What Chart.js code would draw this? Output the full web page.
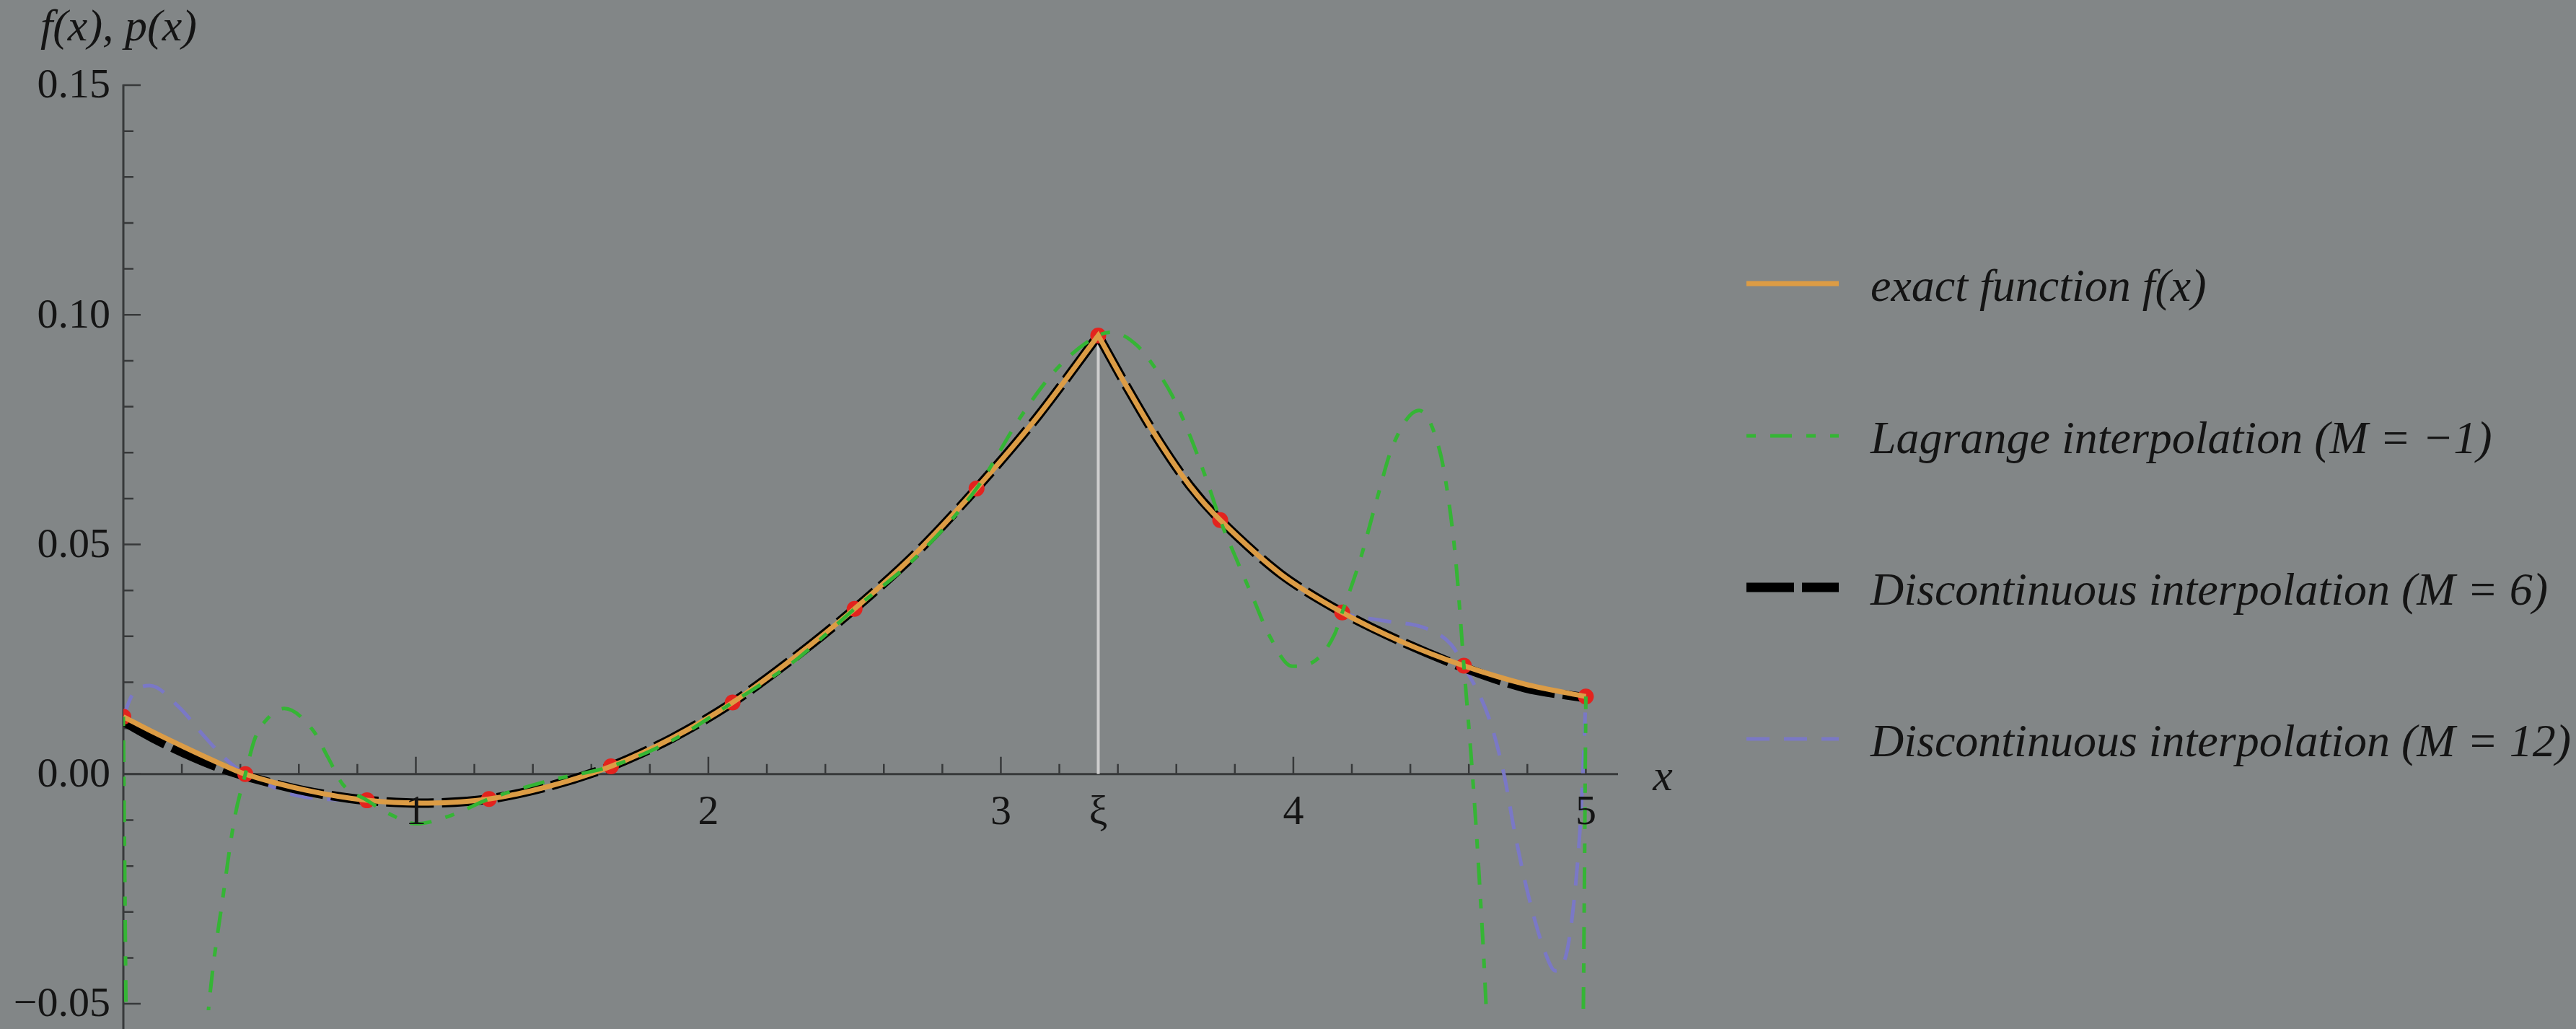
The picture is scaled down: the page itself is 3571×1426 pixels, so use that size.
<!DOCTYPE html>
<html>
<head>
<meta charset="utf-8">
<title>f(x), p(x)</title>
<script src="https://cdn.jsdelivr.net/npm/chart.js@4.4.1/dist/chart.umd.min.js"></script>
<style>
  html, body { margin: 0; padding: 0; background: #828687; }
  canvas { display: block; }
</style>
</head>
<body>
<canvas id="plot" width="3571" height="1426"></canvas>
<script>
/* interpolation of a function with a kink at xi,
   exact f(x) against three interpolants
*/

// interpolation nodes (red dots)
const nodeX = [0, 0.417, 0.833, 1.25, 1.667, 2.083, 2.5, 2.917, 3.333, 3.75, 4.167, 4.583, 5.0];
const nodeY = [0.0125, 0.0, -0.0057, -0.0054, 0.0017, 0.0156, 0.036, 0.0622, 0.0955, 0.0553, 0.0352, 0.0236, 0.0169];

// exact function f(x) (kink at xi, the point is listed twice to keep it sharp)
const exactX = [0, 0.104, 0.208, 0.313, 0.417, 0.625, 0.833, 1.042, 1.25, 1.458, 1.667, 1.875, 2.083, 2.292, 2.5, 2.708, 2.917, 3.125, 3.333, 3.333, 3.438, 3.542, 3.646, 3.75, 3.958, 4.167, 4.375, 4.583, 4.792, 5.0];
const exactY = [0.0125, 0.0091, 0.0059, 0.0028, 0.0, -0.0035, -0.0057, -0.0063, -0.0054, -0.0026, 0.0017, 0.0078, 0.0156, 0.0253, 0.036, 0.048, 0.0622, 0.0778, 0.0955, 0.0955, 0.0835, 0.0724, 0.0628, 0.0553, 0.0435, 0.0352, 0.0287, 0.0236, 0.0196, 0.0169];

// discontinuous interpolation M = 6 (almost on top of f)
const disc6X = exactX;
const disc6Y = [0.0115, 0.0078, 0.0046, 0.0018, -0.0004, -0.0037, -0.0057, -0.0063, -0.0054, -0.0026, 0.0017, 0.0078, 0.0156, 0.0253, 0.036, 0.048, 0.0622, 0.0778, 0.0955, 0.0955, 0.0835, 0.0724, 0.0628, 0.0553, 0.0435, 0.0352, 0.0287, 0.0232, 0.0188, 0.0166];

// Lagrange interpolation M = -1 (runs far below the frame near both ends)
const lagrX = [0, 0.006, 0.012, 0.15, 0.27, 0.29, 0.343, 0.38, 0.417, 0.45, 0.49, 0.55, 0.65, 0.70, 0.75, 0.833, 0.92, 1.0, 1.12, 1.25, 1.45, 1.667, 1.875, 2.083, 2.292, 2.5, 2.708, 2.917, 3.07, 3.195, 3.333, 3.38, 3.466, 3.535, 3.585, 3.633, 3.705, 3.75, 3.804, 3.86, 3.917, 3.996, 4.07, 4.14, 4.167, 4.23, 4.285, 4.34, 4.43, 4.50, 4.53, 4.556, 4.583, 4.61, 4.635, 4.66, 4.70, 4.85, 4.97, 4.99, 5.0];
const lagrY = [0.0125, -0.03, -0.07, -0.3, -0.07, -0.052, -0.0256, -0.0097, 0.0, 0.0078, 0.0119, 0.0143, 0.0094, 0.0036, -0.0022, -0.0057, -0.009, -0.0108, -0.009, -0.0054, -0.0015, 0.0017, 0.0073, 0.0156, 0.0245, 0.036, 0.0471, 0.0622, 0.078, 0.0885, 0.0955, 0.0962, 0.0933, 0.0877, 0.0825, 0.0758, 0.0638, 0.0553, 0.047, 0.0387, 0.0303, 0.0235, 0.0245, 0.0303, 0.0352, 0.047, 0.0597, 0.0715, 0.0792, 0.0705, 0.060, 0.046, 0.0236, 0.002, -0.022, -0.052, -0.12, -0.4, -0.12, -0.06, 0.0169];

// discontinuous interpolation M = 12
const disc12X = [0, 0.03, 0.09, 0.19, 0.28, 0.35, 0.417, 0.5, 0.59, 0.70, 0.833, 1.042, 1.25, 1.458, 1.667, 1.875, 2.083, 2.292, 2.5, 2.708, 2.917, 3.125, 3.30, 3.333, 3.36, 3.438, 3.542, 3.75, 3.958, 4.167, 4.31, 4.455, 4.54, 4.583, 4.67, 4.72, 4.756, 4.80, 4.86, 4.896, 4.935, 4.963, 4.98, 4.99, 5.0];
const disc12Y = [0.0125, 0.0172, 0.0193, 0.0146, 0.008, 0.0033, 0.0, -0.0025, -0.0046, -0.0055, -0.0057, -0.0063, -0.0054, -0.0026, 0.0017, 0.0078, 0.0156, 0.0253, 0.036, 0.048, 0.0622, 0.0778, 0.0928, 0.0955, 0.0925, 0.0835, 0.0724, 0.0553, 0.0435, 0.0352, 0.0334, 0.0317, 0.0282, 0.0236, 0.012, 0.0, -0.0124, -0.0255, -0.0387, -0.0428, -0.0387, -0.0255, -0.012, 0.0, 0.0169];

// the kink position and its guide line
const xiX = [3.333, 3.333];
const xiY = [0, 0.0955];

// axis ticks
const xTickValues = [1, 2, 3, 3.333, 4, 5];
const xTickLabels = ["1", "2", "3", "\u03BE", "4", "5"];
const yTickValues = [-0.05, 0, 0.05, 0.10, 0.15];
const yTickLabels = ["\u22120.05", "0.00", "0.05", "0.10", "0.15"];

const legendLabels = [
    "exact function f(x)",
    "Lagrange interpolation (M = \u22121)",
    "Discontinuous interpolation (M = 6)",
    "Discontinuous interpolation (M = 12)"
];

function pts(xs, ys) {
    return xs.map((x, i) => ({ x: x, y: ys[i] }));
}

const serif = "\"Liberation Serif\", \"DejaVu Serif\", serif";
const ink = "#141414";
const axisColor = "#37393a";

// axes drawn Mathematica style: crossing at the origin, ticks pointing inward
const axesPlugin = {
    id: "axes",
    beforeDatasetsDraw(chart) {
        const ctx = chart.ctx;
        const xs = chart.scales.x;
        const ys = chart.scales.y;
        const x0 = xs.getPixelForValue(0);
        const y0 = ys.getPixelForValue(0);

        ctx.save();
        ctx.strokeStyle = axisColor;
        ctx.lineWidth = 3;
        ctx.beginPath();
        ctx.moveTo(x0, y0);
        ctx.lineTo(xs.getPixelForValue(xs.max), y0);
        ctx.moveTo(x0, ys.getPixelForValue(0.15) - 1);
        ctx.lineTo(x0, chart.height);
        ctx.stroke();

        ctx.lineWidth = 2.5;
        ctx.beginPath();
        for (let i = 1; i <= 25; i++) {
            const px = xs.getPixelForValue(i * 0.2);
            const len = i % 5 === 0 ? 24 : 14;
            ctx.moveTo(px, y0);
            ctx.lineTo(px, y0 - len);
        }
        for (let i = -5; i <= 15; i++) {
            const py = ys.getPixelForValue(i * 0.01);
            const len = i % 5 === 0 ? 24 : 14;
            ctx.moveTo(x0, py);
            ctx.lineTo(x0 + len, py);
        }
        ctx.stroke();
        ctx.restore();
    },
    afterDraw(chart) {
        const ctx = chart.ctx;
        const xs = chart.scales.x;
        const ys = chart.scales.y;
        const x0 = xs.getPixelForValue(0);
        const y0 = ys.getPixelForValue(0);

        ctx.save();
        ctx.fillStyle = ink;

        // tick labels
        ctx.font = "58px " + serif;
        ctx.textAlign = "center";
        ctx.textBaseline = "middle";
        xTickValues.forEach((v, i) => {
            ctx.fillText(xTickLabels[i], xs.getPixelForValue(v), y0 + 54);
        });
        ctx.textAlign = "right";
        yTickValues.forEach((v, i) => {
            ctx.fillText(yTickLabels[i], x0 - 18, ys.getPixelForValue(v) + 2);
        });

        // axis names
        ctx.font = "italic 62px " + serif;
        ctx.textAlign = "left";
        ctx.fillText("f(x), p(x)", 56, 40);
        ctx.textAlign = "center";
        ctx.fillText("x", 2305, y0 + 6);

        // legend, one row per curve
        const rows = [393, 604, 814, 1024];
        ctx.textAlign = "left";
        ctx.textBaseline = "alphabetic";
        ctx.font = "italic 64px " + serif;
        rows.forEach((ry, i) => {
            const ds = chart.data.datasets[i + 1];
            ctx.save();
            ctx.strokeStyle = ds.borderColor;
            ctx.lineWidth = ds.borderWidth;
            ctx.setLineDash(ds.borderDash || []);
            ctx.beginPath();
            ctx.moveTo(2421, ry);
            ctx.lineTo(2549, ry);
            ctx.stroke();
            ctx.restore();
            ctx.fillText(legendLabels[i], 2593, ry + 24);
        });
        ctx.restore();
    }
};

function makeChart() {
    const ctx = document.getElementById("plot").getContext("2d");
    return new Chart(ctx, {
        type: "line",
        data: {
            datasets: [
                {
                    label: "xi",
                    data: pts(xiX, xiY),
                    borderColor: "rgba(214, 214, 214, 0.9)",
                    borderWidth: 4,
                    pointRadius: 0,
                    order: 7
                },
                {
                    label: legendLabels[0],
                    data: pts(exactX, exactY),
                    borderColor: "#dc9c45",
                    borderWidth: 7,
                    tension: 0.3,
                    pointRadius: 0,
                    order: 3
                },
                {
                    label: legendLabels[1],
                    data: pts(lagrX, lagrY),
                    borderColor: "#35b535",
                    borderWidth: 5,
                    borderDash: [13, 20, 30, 20],
                    cubicInterpolationMode: "monotone",
                    pointRadius: 0,
                    order: 2
                },
                {
                    label: legendLabels[2],
                    data: pts(disc6X, disc6Y),
                    borderColor: "#000000",
                    borderWidth: 13,
                    borderDash: [66, 11],
                    tension: 0.3,
                    pointRadius: 0,
                    order: 5
                },
                {
                    label: legendLabels[3],
                    data: pts(disc12X, disc12Y),
                    borderColor: "#7a78c6",
                    borderWidth: 5,
                    borderDash: [32, 20],
                    cubicInterpolationMode: "monotone",
                    pointRadius: 0,
                    order: 6
                },
                {
                    label: "nodes",
                    data: pts(nodeX, nodeY),
                    showLine: false,
                    pointRadius: 11,
                    pointBackgroundColor: "#e3231e",
                    pointBorderWidth: 0,
                    order: 4
                }
            ]
        },
        options: {
            responsive: false,
            animation: false,
            devicePixelRatio: 1,
            events: [],
            layout: {
                padding: { left: 171, top: 118, right: 1328, bottom: 26 }
            },
            scales: {
                x: { type: "linear", min: 0, max: 5.11, display: false },
                y: { type: "linear", min: -0.0514, max: 0.15, display: false }
            },
            plugins: {
                legend: { display: false },
                tooltip: { enabled: false }
            }
        },
        plugins: [axesPlugin]
    });
}

const chart = makeChart();
// system fonts can arrive a moment late for canvas text, redraw once they are there
Promise.all([
    document.fonts.load("58px \"Liberation Serif\""),
    document.fonts.load("italic 64px \"Liberation Serif\"")
]).then(() => chart.draw());
</script>
</body>
</html>
